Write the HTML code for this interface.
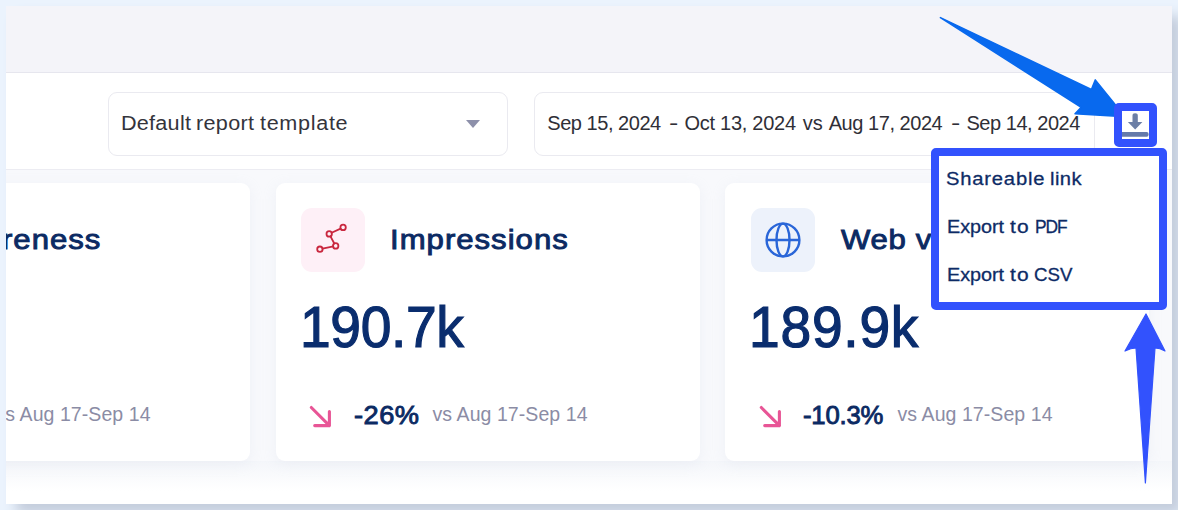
<!DOCTYPE html>
<html>
<head>
<meta charset="utf-8">
<style>
*{box-sizing:border-box;margin:0;padding:0}
html,body{width:1178px;height:510px;overflow:hidden}
body{background:#ebf3fd;font-family:"Liberation Sans",sans-serif;position:relative}
#frame{position:absolute;left:6px;top:6px;width:1166px;height:498px;overflow:hidden;background:#f8f9fc}
#shadow{position:absolute;left:6px;top:6px;width:1166px;height:498px;box-shadow:10px 10px 12px #c4cddc}
.abs{position:absolute}
/* all children of #frame use page coords minus 6 */
#hdr{left:0;top:0;width:1166px;height:66px;background:#f4f4f9}
#hdrline{left:0;top:66px;width:1166px;height:1px;background:#e6e6ee}
#toolbar{left:0;top:67px;width:1166px;height:96px;background:#fff}
#toolline{left:0;top:163px;width:1166px;height:1px;background:#ececf2}
#fade{left:0;top:455px;width:1166px;height:43px;background:linear-gradient(#f4f6fa,#ffffff 70%)}
.box{border:1px solid #eaeaf0;border-radius:9px;background:#fff}
#sel{left:102px;top:86px;width:400px;height:64px}
#date{left:528px;top:86px;width:561px;height:64px}
.t{white-space:nowrap;line-height:1}
.tt{top:107px;font-size:20px}
.ts{color:#34343c;transform:scaleX(1.08);transform-origin:0 50%}
.td{color:#2f2f37}
#caret{left:460px;top:114px;width:0;height:0;border-left:7px solid transparent;border-right:7px solid transparent;border-top:8px solid #8d90aa}
.card{background:#fff;border-radius:9px;box-shadow:0 3px 14px rgba(190,198,216,.16);top:177px;height:278px;width:424px}
#c1{left:-180px}
#c2{left:270px}
#c3{left:719px}
.ico{width:64px;height:64px;border-radius:11px;top:202px}
#i2{left:295px;background:#fef0f7}
#i3{left:745px;background:#edf2fb}
.h{font-size:27.3px;letter-spacing:.88px;color:#0b2a63;-webkit-text-stroke:.9px #0b2a63;top:220px;transform:scaleX(1.14);transform-origin:0 50%}
.num{font-size:57.5px;letter-spacing:-.38px;color:#0a2d6e;top:293px;-webkit-text-stroke:1.2px #0a2d6e;transform:scaleX(.96);transform-origin:0 50%}
#n3{letter-spacing:.77px}
.pct{font-size:25.7px;letter-spacing:.47px;color:#0b2a63;-webkit-text-stroke:.9px #0b2a63;top:397px;transform:scaleX(1.06);transform-origin:0 50%}
#p3{letter-spacing:-.2px;transform:none}
.vs{font-size:19.5px;letter-spacing:.07px;color:#8b8ca5;top:399px}

#dd{left:925px;top:142px;width:236px;height:162px;border:8px solid #3252fd;border-radius:5px;background:#fff}
#dlbox{left:1108px;top:97px;width:43px;height:44px;border:8px solid #3252fd;border-radius:5px}
.dd{font-size:18.7px;color:#0d2b66;-webkit-text-stroke:.3px #0d2b66;transform-origin:0 50%}
</style>
</head>
<body>
<div id="shadow"></div>
<div id="frame">
  <div class="abs" id="hdr"></div>
  <div class="abs" id="hdrline"></div>
  <div class="abs" id="toolbar"></div>
  <div class="abs" id="toolline"></div>
  <div class="abs" id="fade"></div>

  <div class="abs box" id="sel"></div>
  <div class="abs t tt ts" style="left:114.5px;letter-spacing:0.23px">Default</div>
  <div class="abs t tt ts" style="left:189.9px;letter-spacing:0.30px">report</div>
  <div class="abs t tt ts" style="left:254.1px;letter-spacing:0.63px">template</div>
  <div class="abs" id="caret"></div>
  <div class="abs box" id="date"></div>
  <div class="abs t tt td" style="left:541.3px;letter-spacing:-0.46px">Sep 15, 2024</div>
  <div class="abs t tt td" style="left:662.5px;letter-spacing:0.00px;transform:scaleX(1.4);transform-origin:0 50%">-</div>
  <div class="abs t tt td" style="left:678.5px;letter-spacing:-0.27px">Oct 13, 2024</div>
  <div class="abs t tt td" style="left:796.7px;letter-spacing:0.10px">vs</div>
  <div class="abs t tt td" style="left:822.7px;letter-spacing:-0.45px">Aug 17, 2024</div>
  <div class="abs t tt td" style="left:944.7px;letter-spacing:0.00px;transform:scaleX(1.4);transform-origin:0 50%">-</div>
  <div class="abs t tt td" style="left:960.5px;letter-spacing:-0.47px">Sep 14, 2024</div>

  <div class="abs card" id="c1"></div>
  <div class="abs card" id="c2"></div>
  <div class="abs card" id="c3"></div>

  <div class="abs t h" id="h1" style="left:-67px">Awareness</div>
  <div class="abs t vs" id="vs1" style="left:-10.5px">vs Aug 17-Sep 14</div>

  <div class="abs ico" id="i2"></div>
  <div class="abs t h" id="h2" style="left:384px">Impressions</div>
  <div class="abs t num" id="n2" style="left:293.7px">190.7k</div>
  <div class="abs t pct" id="p2" style="left:347.5px">-26%</div>
  <div class="abs t vs" id="vs2" style="left:426.5px">vs Aug 17-Sep 14</div>

  <div class="abs ico" id="i3"></div>
  <div class="abs t h" id="h3" style="left:835.2px;letter-spacing:.61px">Web visits</div>
  <div class="abs t num" id="n3" style="left:743.3px">189.9k</div>
  <div class="abs t pct" id="p3" style="left:797px">-10.3%</div>
  <div class="abs t vs" id="vs3" style="left:891.5px">vs Aug 17-Sep 14</div>

  <!-- network icon -->
  <svg class="abs" style="left:295px;top:202px" width="64" height="64" viewBox="0 0 64 64" fill="none" stroke="#c9283f" stroke-width="1.8" stroke-linecap="round">
    <line x1="21.5" y1="40.7" x2="32.3" y2="38.4"/>
    <line x1="33.3" y1="35.5" x2="29.5" y2="28.3"/>
    <line x1="30.6" y1="24.8" x2="39.6" y2="20.6"/>
    <circle cx="18.9" cy="41.2" r="2.7"/>
    <circle cx="34.7" cy="37.9" r="2.7"/>
    <circle cx="28.2" cy="25.9" r="2.7"/>
    <circle cx="42.1" cy="19.4" r="2.7"/>
  </svg>
  <!-- globe icon -->
  <svg class="abs" style="left:745px;top:202px" width="64" height="64" viewBox="0 0 64 64" fill="none" stroke="#2a66d8" stroke-width="2.4">
    <circle cx="32" cy="32" r="16.4"/>
    <ellipse cx="32" cy="32" rx="6.5" ry="16.4"/>
    <line x1="15.6" y1="32" x2="48.4" y2="32"/>
  </svg>
  <!-- trend arrows -->
  <svg class="abs" style="left:302px;top:399px" width="26" height="26" viewBox="0 0 26 26" fill="none" stroke="#e85596" stroke-width="3.1" stroke-linecap="round" stroke-linejoin="round">
    <path d="M3.3 2.5 L21.4 20.6 M21.4 6.5 V20.6 H6.7"/>
  </svg>
  <svg class="abs" style="left:752px;top:399px" width="26" height="26" viewBox="0 0 26 26" fill="none" stroke="#e85596" stroke-width="3.1" stroke-linecap="round" stroke-linejoin="round">
    <path d="M3.3 2.5 L21.4 20.6 M21.4 6.5 V20.6 H6.7"/>
  </svg>
  <!-- download icon -->
  <svg class="abs" style="left:1114px;top:104px" width="32" height="30" viewBox="0 0 32 30" fill="#6c7fa6">
    <path d="M12.5 5.6 a2.65 2.4 0 0 1 5.3 0 v6.4 h4.6 l-7.25 7.4 l-7.25 -7.4 h4.6 z"/>
    <rect x="0" y="22" width="28.6" height="4.7" rx="2" fill="#657aab"/>
  </svg>

  <!-- dropdown -->
  <div class="abs" id="dd"></div>
  <div class="abs t dd" style="left:940.4px;top:164px;letter-spacing:0.74px;transform:scaleX(1.08)">Shareable</div>
  <div class="abs t dd" style="left:1044.0px;top:164px;letter-spacing:0.40px;transform:scaleX(1.08)">link</div>
  <div class="abs t dd" style="left:940.6px;top:212px;letter-spacing:-0.06px;transform:scaleX(1.06)">Export</div>
  <div class="abs t dd" style="left:1003.8px;top:212px;letter-spacing:0.98px;transform:scaleX(1.12)">to</div>
  <div class="abs t dd" style="left:1029.1px;top:212px;letter-spacing:-1.13px;transform:scaleX(0.93)">PDF</div>
  <div class="abs t dd" style="left:940.6px;top:260px;letter-spacing:-0.06px;transform:scaleX(1.06)">Export</div>
  <div class="abs t dd" style="left:1003.8px;top:260px;letter-spacing:0.98px;transform:scaleX(1.12)">to</div>
  <div class="abs t dd" style="left:1027.9px;top:260px;letter-spacing:0.10px;transform:scaleX(1.0)">CSV</div>

  <!-- annotation arrows (frame coords) -->
  <svg class="abs" style="left:0;top:0" width="1166" height="498" viewBox="6 6 1166 498">
    <path d="M940.4 17.6 L1091.4 89.5 L1095.3 79.9 L1121 111.6 L1121 116.6 L1075 113.8 L1081.2 107.3 Z" fill="#0869ee" stroke="#0869ee" stroke-width="1.5" stroke-linejoin="round"/>
    <path d="M1146 314 L1165 351 Q1160 348 1155 348 L1145.4 483 L1136 348 Q1131 348 1125 351 Z" fill="#3252fd" stroke="#3252fd" stroke-width="1.2" stroke-linejoin="round"/>
  </svg>
  <div class="abs" id="dlbox"></div>
</div>
</body>
</html>
